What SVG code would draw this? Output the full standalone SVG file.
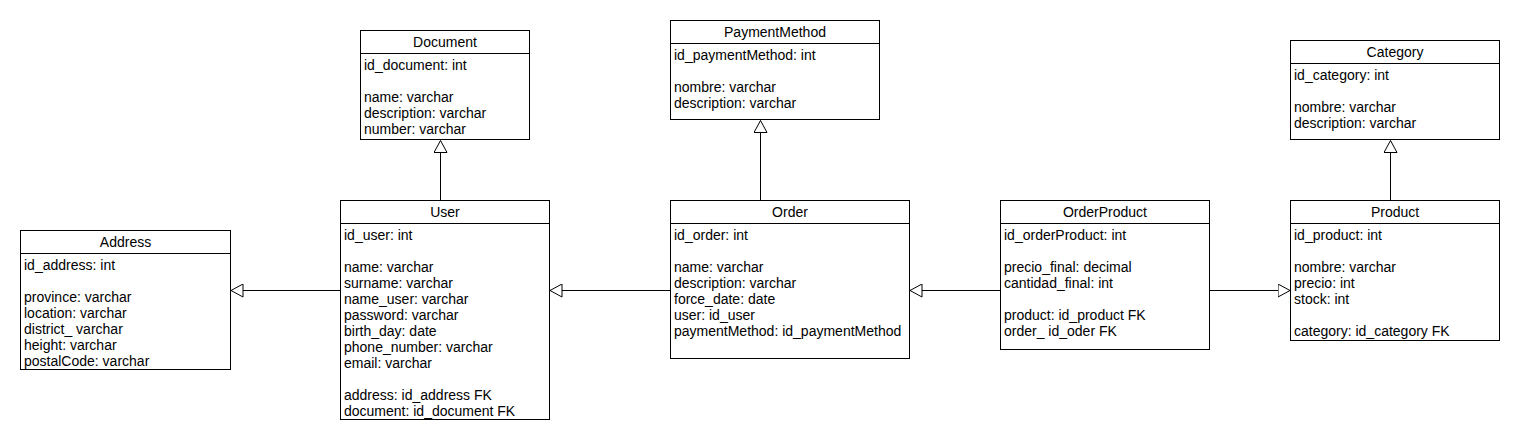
<svg xmlns="http://www.w3.org/2000/svg" width="1520" height="440" viewBox="0 0 1520 440">
<style>
.box{fill:#fff;stroke:#000;stroke-width:1}
.sep{stroke:#000;stroke-width:1}
.t{font-family:"Liberation Sans",Arial,sans-serif;font-size:14px;fill:#000}
.h{text-anchor:middle}
.c{stroke:#000;stroke-width:1;fill:none;marker-end:url(#tri)}
</style>
<defs>
<marker id="tri" viewBox="0 0 13 14" refX="12.5" refY="7" markerWidth="13" markerHeight="14" markerUnits="userSpaceOnUse" orient="auto">
<path d="M0.5,0.5 L12.5,7 L0.5,13.5 Z" fill="#fff" stroke="#000" stroke-width="1"/>
</marker>
</defs>
<rect width="1520" height="440" fill="#fff"/>
<g id="connectors">
<line class="c" x1="440.5" y1="200" x2="440.5" y2="140.5"/>
<line class="c" x1="760.5" y1="200" x2="760.5" y2="120.5"/>
<line class="c" x1="1390.5" y1="200" x2="1390.5" y2="140.5"/>
<line class="c" x1="340" y1="290.5" x2="231" y2="290.5"/>
<line class="c" x1="670" y1="290.5" x2="550" y2="290.5"/>
<line class="c" x1="1000" y1="290.5" x2="910" y2="290.5"/>
<line class="c" x1="1210" y1="290.5" x2="1290" y2="290.5"/>
</g>
<g id="Address">
<rect class="box" x="20.5" y="230.5" width="210" height="139"/>
<line class="sep" x1="20.5" y1="253.5" x2="230.5" y2="253.5"/>
<text class="t h" x="125.5" y="247">Address</text>
<text class="t" x="24" y="269.5">id_address: int</text>
<text class="t" x="24" y="301.5">province: varchar</text>
<text class="t" x="24" y="317.5">location: varchar</text>
<text class="t" x="24" y="333.5">district_ varchar</text>
<text class="t" x="24" y="349.5">height: varchar</text>
<text class="t" x="24" y="365.5">postalCode: varchar</text>
</g>
<g id="Document">
<rect class="box" x="360.5" y="30.5" width="169" height="109"/>
<line class="sep" x1="360.5" y1="53.5" x2="529.5" y2="53.5"/>
<text class="t h" x="445" y="47">Document</text>
<text class="t" x="364" y="69.5">id_document: int</text>
<text class="t" x="364" y="101.5">name: varchar</text>
<text class="t" x="364" y="117.5">description: varchar</text>
<text class="t" x="364" y="133.5">number: varchar</text>
</g>
<g id="User">
<rect class="box" x="340.5" y="200.5" width="209" height="219"/>
<line class="sep" x1="340.5" y1="223.5" x2="549.5" y2="223.5"/>
<text class="t h" x="445" y="217">User</text>
<text class="t" x="344" y="239.5">id_user: int</text>
<text class="t" x="344" y="271.5">name: varchar</text>
<text class="t" x="344" y="287.5">surname: varchar</text>
<text class="t" x="344" y="303.5">name_user: varchar</text>
<text class="t" x="344" y="319.5">password: varchar</text>
<text class="t" x="344" y="335.5">birth_day: date</text>
<text class="t" x="344" y="351.5">phone_number: varchar</text>
<text class="t" x="344" y="367.5">email: varchar</text>
<text class="t" x="344" y="399.5">address: id_address FK</text>
<text class="t" x="344" y="415.5">document: id_document FK</text>
</g>
<g id="PaymentMethod">
<rect class="box" x="670.5" y="20.5" width="209" height="99"/>
<line class="sep" x1="670.5" y1="43.5" x2="879.5" y2="43.5"/>
<text class="t h" x="775" y="37">PaymentMethod</text>
<text class="t" x="674" y="59.5">id_paymentMethod: int</text>
<text class="t" x="674" y="91.5">nombre: varchar</text>
<text class="t" x="674" y="107.5">description: varchar</text>
</g>
<g id="Order">
<rect class="box" x="670.5" y="200.5" width="239" height="158"/>
<line class="sep" x1="670.5" y1="223.5" x2="909.5" y2="223.5"/>
<text class="t h" x="790" y="217">Order</text>
<text class="t" x="674" y="239.5">id_order: int</text>
<text class="t" x="674" y="271.5">name: varchar</text>
<text class="t" x="674" y="287.5">description: varchar</text>
<text class="t" x="674" y="303.5">force_date: date</text>
<text class="t" x="674" y="319.5">user: id_user</text>
<text class="t" x="674" y="335.5">paymentMethod: id_paymentMethod</text>
</g>
<g id="OrderProduct">
<rect class="box" x="1000.5" y="200.5" width="209" height="149"/>
<line class="sep" x1="1000.5" y1="223.5" x2="1209.5" y2="223.5"/>
<text class="t h" x="1105" y="217">OrderProduct</text>
<text class="t" x="1004" y="239.5">id_orderProduct: int</text>
<text class="t" x="1004" y="271.5">precio_final: decimal</text>
<text class="t" x="1004" y="287.5">cantidad_final: int</text>
<text class="t" x="1004" y="319.5">product: id_product FK</text>
<text class="t" x="1004" y="335.5">order_ id_oder FK</text>
</g>
<g id="Category">
<rect class="box" x="1290.5" y="40.5" width="209" height="99"/>
<line class="sep" x1="1290.5" y1="63.5" x2="1499.5" y2="63.5"/>
<text class="t h" x="1395" y="57">Category</text>
<text class="t" x="1294" y="79.5">id_category: int</text>
<text class="t" x="1294" y="111.5">nombre: varchar</text>
<text class="t" x="1294" y="127.5">description: varchar</text>
</g>
<g id="Product">
<rect class="box" x="1290.5" y="200.5" width="209" height="140"/>
<line class="sep" x1="1290.5" y1="223.5" x2="1499.5" y2="223.5"/>
<text class="t h" x="1395" y="217">Product</text>
<text class="t" x="1294" y="239.5">id_product: int</text>
<text class="t" x="1294" y="271.5">nombre: varchar</text>
<text class="t" x="1294" y="287.5">precio: int</text>
<text class="t" x="1294" y="303.5">stock: int</text>
<text class="t" x="1294" y="335.5">category: id_category FK</text>
</g>
</svg>
